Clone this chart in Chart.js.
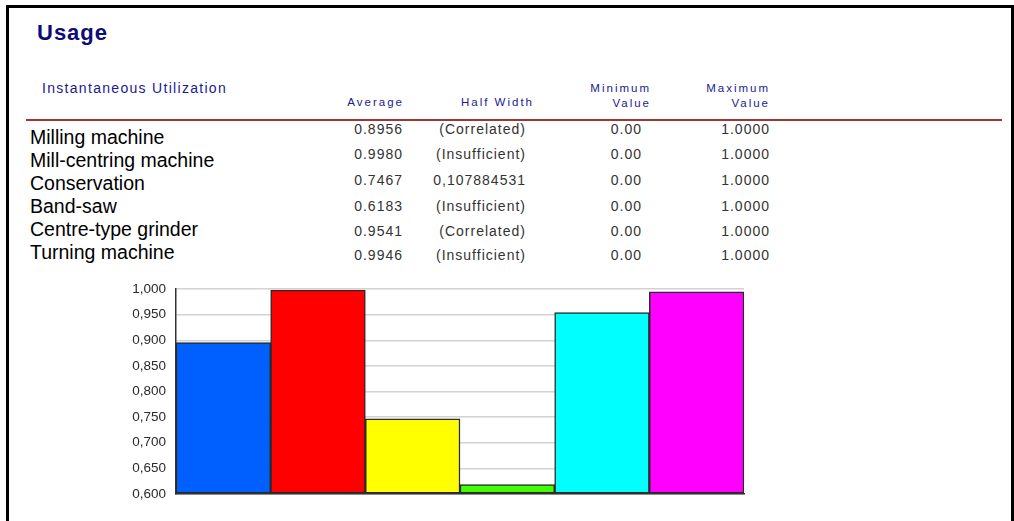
<!DOCTYPE html>
<html>
<head>
<meta charset="utf-8">
<script src="https://cdn.jsdelivr.net/npm/chart.js@4"></script>
<style>
  body { margin: 0; background: #fff; font-family: "Liberation Sans", Arial, sans-serif; }
  #page { position: relative; width: 1014px; height: 521px; overflow: hidden; }
  #cadre { position: absolute; left: 6px; top: 5px; width: 1002px; height: 560px; border: 3px solid #000; }
  .txt { position: absolute; white-space: nowrap; }
  .titre { left: 37px; top: 20px; font-size: 22px; font-weight: bold; letter-spacing: 1px; color: #0c0c78; line-height: 26px; }
  .sousTitre { left: 42px; top: 79px; font-size: 14px; letter-spacing: 1.3px; color: #1a1a90; line-height: 18px; }
  .entete { font-size: 11.5px; letter-spacing: 2px; color: #1a1a90; line-height: 14px; text-align: right; width: 200px; }
  .nom { left: 30px; font-size: 19.5px; color: #000; line-height: 22px; }
  .valeur { font-size: 14px; letter-spacing: 1px; color: #333; line-height: 16px; text-align: right; width: 200px; }
  #ligne { position: absolute; left: 26px; top: 119px; width: 976px; height: 2px; background: #a03535; }
  #zoneGraphique { position: absolute; left: 100px; top: 271px; width: 650px; height: 241px; }
</style>
</head>
<body>
<div id="page">
  <div id="cadre"></div>
  <div class="txt titre">Usage</div>
  <div class="txt sousTitre">Instantaneous Utilization</div>
  <div id="ligne"></div>
  <div id="tableau"></div>
  <div id="zoneGraphique"><canvas id="graphique-usage"></canvas></div>
</div>
<script>
const machines = ["Milling machine", "Mill-centring machine", "Conservation", "Band-saw", "Centre-type grinder", "Turning machine"]
const moyennes = [0.8956, 0.9980, 0.7467, 0.6183, 0.9541, 0.9946]
const demiLargeurs = ["(Correlated)", "(Insufficient)", "0,107884531", "(Insufficient)", "(Correlated)", "(Insufficient)"]
const minimums = [0.00, 0.00, 0.00, 0.00, 0.00, 0.00]
const maximums = [1.0, 1.0, 1.0, 1.0, 1.0, 1.0]
const graduations = [0.600, 0.650, 0.700, 0.750, 0.800, 0.850, 0.900, 0.950, 1.000]

const couleursBarres = ["#0060ff", "#ff0000", "#ffff00", "#40ff00", "#00ffff", "#ff00ff"]

// petite aide pour placer un texte aligné à droite
function ajouterTexte(parent, classe, texte, droite, centreY, hauteurLigne) {
    const el = document.createElement("div")
    el.className = "txt " + classe
    el.textContent = texte
    if (droite !== null) el.style.left = (droite - 200) + "px"
    el.style.top = (centreY - hauteurLigne / 2) + "px"
    parent.appendChild(el)
    return el
}

const tableau = document.querySelector("#tableau")

// en-têtes des colonnes
ajouterTexte(tableau, "entete", "Average", 404, 102, 14)
ajouterTexte(tableau, "entete", "Half Width", 534, 102, 14)
ajouterTexte(tableau, "entete", "Minimum", 651, 88, 14)
ajouterTexte(tableau, "entete", "Value", 651, 103, 14)
ajouterTexte(tableau, "entete", "Maximum", 770, 88, 14)
ajouterTexte(tableau, "entete", "Value", 770, 103, 14)

const centresNoms = [137, 160, 183, 206, 229, 252]
const centresValeurs = [129, 154, 180, 206, 231, 255]

for (let i = 0; i < machines.length; i++) {
    ajouterTexte(tableau, "nom", machines[i], null, centresNoms[i], 22)
    ajouterTexte(tableau, "valeur", moyennes[i].toFixed(4), 403, centresValeurs[i], 16)
    ajouterTexte(tableau, "valeur", demiLargeurs[i], 526, centresValeurs[i], 16)
    ajouterTexte(tableau, "valeur", minimums[i].toFixed(2), 642, centresValeurs[i], 16)
    ajouterTexte(tableau, "valeur", maximums[i].toFixed(4), 770, centresValeurs[i], 16)
}

// Rendu du graphique
const data = {
    labels: machines,
    datasets: [{
        label: "Average",
        data: moyennes,
        backgroundColor: couleursBarres,
        borderColor: "#2a2a2a",
        borderWidth: 1.5,
        borderSkipped: false,
        barPercentage: 1,
        categoryPercentage: 1,
        base: 0.6,
    }],
}

const config = {
    type: "bar",
    data: data,
    options: {
        responsive: true,
        maintainAspectRatio: false,
        animation: false,
        layout: { padding: { top: 8, right: 6, bottom: 8, left: 0 } },
        plugins: {
            legend: { display: false },
            tooltip: { enabled: false },
        },
        scales: {
            x: {
                ticks: { display: false },
                grid: { display: false },
                border: { display: true, color: "#333", width: 1.5 },
                afterFit: (scale) => { scale.height = 0 },
            },
            y: {
                min: 0.6,
                max: 1.0,
                afterBuildTicks: (scale) => {
                    scale.ticks = graduations.map(v => ({ value: v }))
                },
                ticks: {
                    padding: 10,
                    color: "#2a2a2a",
                    font: { family: "Liberation Sans, Arial", size: 13.5 },
                    callback: (v) => Number(v).toFixed(3).replace(".", ","),
                },
                grid: { color: "#d2d2d2", lineWidth: 1.5, drawTicks: false },
                border: { display: true, color: "#333", width: 1.5 },
                afterFit: (scale) => { scale.width = 76 },
            },
        },
    },
}

const graphiqueUsage = new Chart(document.querySelector("#graphique-usage"), config)
</script>
</body>
</html>
